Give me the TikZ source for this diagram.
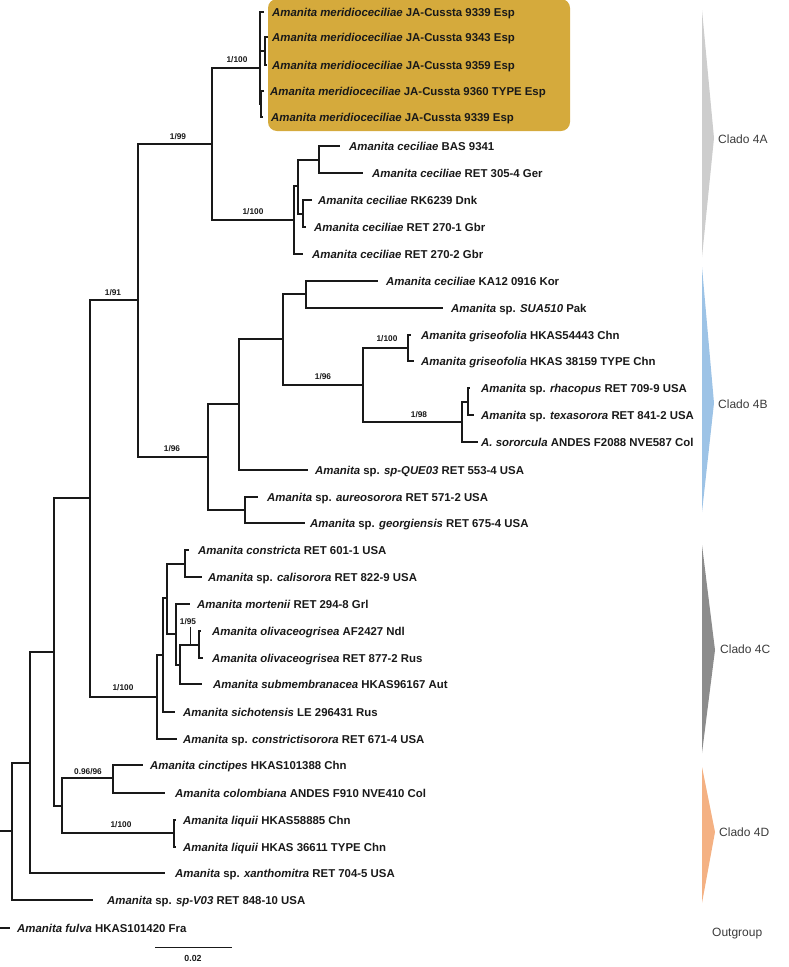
\documentclass[tikz,border=0pt]{standalone}
\usepackage{fontspec}
\setmainfont{Liberation Sans}
\definecolor{gold}{RGB}{213,170,60}
\definecolor{c4a}{RGB}{205,205,205}
\definecolor{c4b}{RGB}{157,195,230}
\definecolor{c4c}{RGB}{140,140,140}
\definecolor{c4d}{RGB}{244,177,131}
\definecolor{ink}{RGB}{25,25,25}
\newcommand{\ita}[1]{\textit{#1}}
\begin{document}
\begin{tikzpicture}[x=1pt,y=-1pt,
  branch/.style={line width=1.3pt,draw=ink},
  leaf/.style={anchor=west,inner sep=0pt,text=ink,font=\fontsize{11.4}{13}\selectfont\bfseries,text height=8.1pt,text depth=0pt},
  supp/.style={inner sep=0pt,text=ink,font=\fontsize{8.3}{9.5}\selectfont\bfseries},
  clade/.style={anchor=west,inner sep=0pt,text=ink!85,font=\fontsize{12}{14}\selectfont,text height=8.6pt,text depth=0pt}]
\useasboundingbox (0,0) rectangle (789,967);
% highlight box
\fill[gold,rounded corners=9pt] (268,-1) rectangle (570,131);
% clade bars
\fill[c4a] (702,10) -- (714,138) -- (702,257) -- cycle;
\fill[c4b] (702,267) -- (714,403) -- (702,512) -- cycle;
\fill[c4c] (702,545) -- (715,650) -- (702,753) -- cycle;
\fill[c4d] (702,767) -- (715,832) -- (702,903) -- cycle;
\node[clade] (k4a) at (718,139) {Clado 4A};
\node[clade] (k4b) at (718,404) {Clado 4B};
\node[clade] (k4c) at (720,649) {Clado 4C};
\node[clade] (k4d) at (719,832) {Clado 4D};
\node[clade] (kout) at (712,932) {Outgroup};
% internal nodes
\coordinate (R) at (-3,880);
\coordinate (J) at (12,831);
\coordinate (I) at (30,763);
\coordinate (G) at (54,652);
\coordinate (E) at (90,498);
\coordinate (B) at (138,300);
\coordinate (A) at (212,144);
\coordinate (M) at (260,68);
\coordinate (M23) at (265,51);
\coordinate (M45) at (261,104);
\coordinate (C) at (294,220);
\coordinate (C1) at (298,186);
\coordinate (C11) at (319,160);
\coordinate (C12) at (303,214);
\coordinate (D) at (208,457);
\coordinate (D1) at (239,404);
\coordinate (D11) at (283,339);
\coordinate (D111) at (306,294);
\coordinate (D112) at (363,385);
\coordinate (D1121) at (408,348);
\coordinate (D1122) at (462,422);
\coordinate (D11221) at (468,402);
\coordinate (D2) at (245,510);
\coordinate (F) at (157,697);
\coordinate (F1) at (163,655);
\coordinate (F11) at (167,598);
\coordinate (F111) at (185,564);
\coordinate (F112) at (176,634);
\coordinate (F1121) at (180,665);
\coordinate (F11211) at (199,645);
\coordinate (H) at (62,806);
\coordinate (H1) at (113,778);
\coordinate (H2) at (174,833);
% tips
\coordinate (t1) at (264,12);
\coordinate (t2) at (268,37);
\coordinate (t3) at (267,65);
\coordinate (t4) at (264,91);
\coordinate (t5) at (263,117);
\coordinate (t6) at (340,146);
\coordinate (t7) at (363,173);
\coordinate (t8) at (312,200);
\coordinate (t9) at (306,227);
\coordinate (t10) at (303,254);
\coordinate (t11) at (378,281);
\coordinate (t12) at (443,308);
\coordinate (t13) at (411,335);
\coordinate (t14) at (414,361);
\coordinate (t15) at (470,388);
\coordinate (t16) at (474,415);
\coordinate (t17) at (478,442);
\coordinate (t18) at (308,470);
\coordinate (t19) at (258,497);
\coordinate (t20) at (305,523);
\coordinate (t21) at (189,550);
\coordinate (t22) at (202,577);
\coordinate (t23) at (190,604);
\coordinate (t24) at (201,631);
\coordinate (t25) at (203,658);
\coordinate (t26) at (202,684);
\coordinate (t27) at (175,712);
\coordinate (t28) at (177,739);
\coordinate (t29) at (143,765);
\coordinate (t30) at (165,793);
\coordinate (t31) at (176,820);
\coordinate (t32) at (176,847);
\coordinate (t33) at (165,873);
\coordinate (t34) at (93,900);
\coordinate (t35) at (10,928);
% branches
\draw[branch] (R) |- (J) (R) |- (t35)
 (J) |- (I) (J) |- (t34)
 (I) |- (G) (I) |- (t33)
 (G) |- (E) (G) |- (H)
 (H) |- (H1) (H) |- (H2)
 (H1) |- (t29) (H1) |- (t30)
 (H2) |- (t31) (H2) |- (t32)
 (E) |- (B) (E) |- (F)
 (F) |- (F1) (F) |- (t28)
 (F1) |- (F11) (F1) |- (t27)
 (F11) |- (F111) (F11) |- (F112)
 (F111) |- (t21) (F111) |- (t22)
 (F112) |- (t23) (F112) |- (F1121)
 (F1121) |- (F11211) (F1121) |- (t26)
 (F11211) |- (t24) (F11211) |- (t25)
 (B) |- (A) (B) |- (D)
 (A) |- (M) (A) |- (C)
 (M) |- (t1) (M) |- (M23) (M) |- (M45)
 (M23) |- (t2) (M23) |- (t3)
 (M45) |- (t4) (M45) |- (t5)
 (C) |- (C1) (C) |- (t10)
 (C1) |- (C11) (C1) |- (C12)
 (C11) |- (t6) (C11) |- (t7)
 (C12) |- (t8) (C12) |- (t9)
 (D) |- (D1) (D) |- (D2)
 (D1) |- (D11) (D1) |- (t18)
 (D11) |- (D111) (D11) |- (D112)
 (D111) |- (t11) (D111) |- (t12)
 (D112) |- (D1121) (D112) |- (D1122)
 (D1121) |- (t13) (D1121) |- (t14)
 (D1122) |- (D11221) (D1122) |- (t17)
 (D11221) |- (t15) (D11221) |- (t16)
 (D2) |- (t19) (D2) |- (t20);
% leaf labels
\node[leaf] (n1) at (272,12) {\ita{Amanita meridioceciliae} JA-Cussta 9339 Esp};
\node[leaf] (n2) at (272,37) {\ita{Amanita meridioceciliae} JA-Cussta 9343 Esp};
\node[leaf] (n3) at (272,65) {\ita{Amanita meridioceciliae} JA-Cussta 9359 Esp};
\node[leaf] (n4) at (270,91) {\ita{Amanita meridioceciliae} JA-Cussta 9360 TYPE Esp};
\node[leaf] (n5) at (271,117) {\ita{Amanita meridioceciliae} JA-Cussta 9339 Esp};
\node[leaf] (n6) at (349,146) {\ita{Amanita ceciliae} BAS 9341};
\node[leaf] (n7) at (372,173) {\ita{Amanita ceciliae} RET 305-4 Ger};
\node[leaf] (n8) at (318,200) {\ita{Amanita ceciliae} RK6239 Dnk};
\node[leaf] (n9) at (314,227) {\ita{Amanita ceciliae} RET 270-1 Gbr};
\node[leaf] (n10) at (312,254) {\ita{Amanita ceciliae} RET 270-2 Gbr};
\node[leaf] (n11) at (386,281) {\ita{Amanita ceciliae} KA12 0916 Kor};
\node[leaf] (n12) at (451,308) {\ita{Amanita} sp. \ita{SUA510} Pak};
\node[leaf] (n13) at (421,335) {\ita{Amanita griseofolia} HKAS54443 Chn};
\node[leaf] (n14) at (421,361) {\ita{Amanita griseofolia} HKAS 38159 TYPE Chn};
\node[leaf] (n15) at (481,388) {\ita{Amanita} sp. \ita{rhacopus} RET 709-9 USA};
\node[leaf] (n16) at (481,415) {\ita{Amanita} sp. \ita{texasorora} RET 841-2 USA};
\node[leaf] (n17) at (481,442) {\ita{A. sororcula} ANDES F2088 NVE587 Col};
\node[leaf] (n18) at (315,470) {\ita{Amanita} sp. \ita{sp-QUE03} RET 553-4 USA};
\node[leaf] (n19) at (267,497) {\ita{Amanita} sp. \ita{aureosorora} RET 571-2 USA};
\node[leaf] (n20) at (310,523) {\ita{Amanita} sp. \ita{georgiensis} RET 675-4 USA};
\node[leaf] (n21) at (198,550) {\ita{Amanita constricta} RET 601-1 USA};
\node[leaf] (n22) at (208,577) {\ita{Amanita} sp. \ita{calisorora} RET 822-9 USA};
\node[leaf] (n23) at (197,604) {\ita{Amanita mortenii} RET 294-8 Grl};
\node[leaf] (n24) at (212,631) {\ita{Amanita olivaceogrisea} AF2427 Ndl};
\node[leaf] (n25) at (212,658) {\ita{Amanita olivaceogrisea} RET 877-2 Rus};
\node[leaf] (n26) at (213,684) {\ita{Amanita submembranacea} HKAS96167 Aut};
\node[leaf] (n27) at (183,712) {\ita{Amanita sichotensis} LE 296431 Rus};
\node[leaf] (n28) at (183,739) {\ita{Amanita} sp. \ita{constrictisorora} RET 671-4 USA};
\node[leaf] (n29) at (150,765) {\ita{Amanita cinctipes} HKAS101388 Chn};
\node[leaf] (n30) at (175,793) {\ita{Amanita colombiana} ANDES F910 NVE410 Col};
\node[leaf] (n31) at (183,820) {\ita{Amanita liquii} HKAS58885 Chn};
\node[leaf] (n32) at (183,847) {\ita{Amanita liquii} HKAS 36611 TYPE Chn};
\node[leaf] (n33) at (175,873) {\ita{Amanita} sp. \ita{xanthomitra} RET 704-5 USA};
\node[leaf] (n34) at (107,900) {\ita{Amanita} sp. \ita{sp-V03} RET 848-10 USA};
\node[leaf] (n35) at (17,928) {\ita{Amanita fulva} HKAS101420 Fra};
% support values
\node[supp] (s1) at (178,137) {1/99};
\node[supp] (s2) at (237,60) {1/100};
\node[supp] (s3) at (253,212) {1/100};
\node[supp] (s4) at (113,293) {1/91};
\node[supp] (s5) at (172,449) {1/96};
\node[supp] (s6) at (323,377) {1/96};
\node[supp] (s7) at (387,339) {1/100};
\node[supp] (s8) at (419,415) {1/98};
\node[supp] (s9) at (188,622) {1/95};
\node[supp] (s10) at (123,688) {1/100};
\node[supp] (s11) at (88,772) {0.96/96};
\node[supp] (s12) at (121,825) {1/100};
\coordinate (p95) at (190,645);
\draw[line width=0.7pt,draw=ink] (s9.south -| p95) ++(0,1.5) -- (p95);
% scale bar
\coordinate (sb1) at (155,947);
\coordinate (sb2) at (232,947);
\draw[line width=1pt,draw=ink] (sb1) -- (sb2);
\node[supp,font=\fontsize{8.8}{10}\selectfont\bfseries] (sbl) at (193,958) {0.02};
\end{tikzpicture}
\end{document}
